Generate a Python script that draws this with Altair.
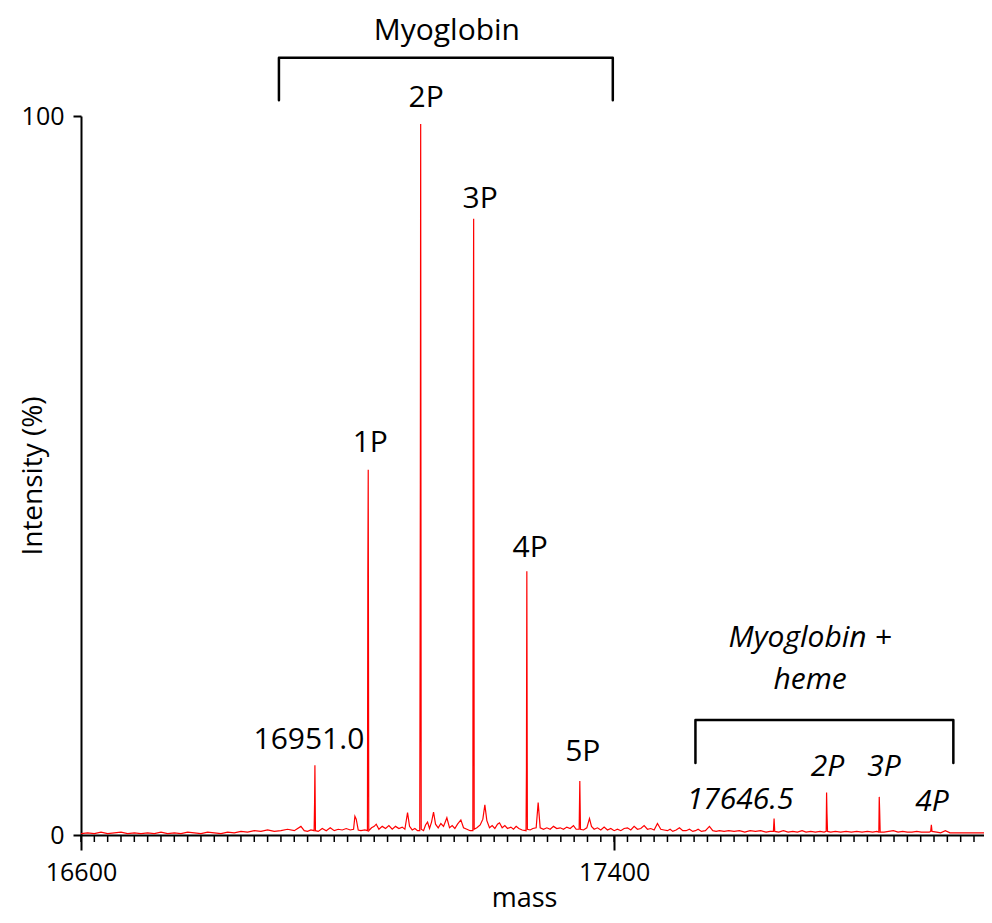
import altair as alt
import pandas as pd

# ---- spectrum profile (mass, intensity %) ----
spectrum_mass = [
    16600, 16610, 16620, 16630, 16640, 16650, 16660, 16670, 16680, 16690,
    16700, 16710, 16720, 16730, 16740, 16750, 16760, 16770, 16780, 16790,
    16800, 16810, 16820, 16830, 16840, 16850, 16860, 16870, 16880, 16890,
    16900, 16910, 16920, 16930, 16935, 16940, 16945,
    16949.8, 16950.5, 16951.0, 16951.8,
    16956, 16962, 16968, 16974, 16980, 16986, 16992, 16998, 17004,
    17009, 17011, 17013, 17016, 17020, 17026,
    17029.8, 17030.4, 17031.0, 17031.8,
    17036, 17040, 17043, 17047, 17052, 17057, 17062, 17067, 17072, 17077,
    17082, 17086, 17090, 17093, 17097, 17101, 17105,
    17108.3, 17108.8, 17109.2, 17109.7, 17110.5,
    17114, 17117, 17120, 17123, 17126, 17129, 17132, 17136, 17140, 17144,
    17149, 17153, 17157, 17161, 17165, 17170, 17174, 17179, 17184,
    17188.0, 17188.6, 17189.2, 17190.0,
    17194, 17199, 17203, 17206, 17209, 17213, 17217, 17221, 17225, 17228,
    17232, 17236, 17240, 17245, 17249, 17253, 17257, 17262,
    17267.8, 17268.4, 17269.0, 17269.8,
    17274, 17278, 17283, 17286, 17289, 17294, 17299, 17304, 17309, 17314,
    17319, 17324, 17329, 17334, 17339, 17343,
    17347.5, 17348.5, 17349.5,
    17354, 17359, 17363, 17366, 17370, 17375, 17380, 17385, 17390, 17395,
    17400, 17405, 17410, 17415, 17420, 17425, 17430, 17435, 17440, 17445,
    17450, 17455, 17460, 17465, 17470, 17475, 17480, 17484, 17488, 17493,
    17498, 17503, 17508, 17513, 17518, 17522, 17526, 17531, 17537, 17543,
    17548, 17553, 17558, 17565, 17572, 17580, 17588, 17596, 17604, 17612,
    17620, 17628, 17634,
    17639, 17640, 17641,
    17647, 17654, 17661, 17668, 17675, 17682, 17688, 17695, 17702, 17709, 17715,
    17718.2, 17718.8, 17719.4, 17720.2,
    17725, 17732, 17740, 17748, 17756, 17764, 17772, 17780, 17788, 17794,
    17797.2, 17797.8, 17798.4, 17799.2,
    17805, 17812, 17819, 17826, 17833, 17840, 17847, 17854, 17861, 17868, 17873,
    17875, 17876, 17877,
    17884, 17890, 17897, 17904, 17912, 17920, 17930, 17940, 17950, 17955,
]
spectrum_intensity = [
    0.2, 0.3, 0.2, 0.4, 0.2, 0.3, 0.4, 0.2, 0.3, 0.2,
    0.3, 0.2, 0.4, 0.2, 0.3, 0.2, 0.4, 0.3, 0.2, 0.4,
    0.3, 0.2, 0.4, 0.3, 0.5, 0.4, 0.6, 0.5, 0.7, 0.5,
    0.6, 0.8, 0.6, 1.2, 0.6, 0.5, 0.7,
    0.6, 4.5, 9.7, 0.6,
    0.5, 0.9, 0.6, 1.0, 0.6, 0.8, 0.7, 0.9, 0.7,
    0.8, 2.6, 2.2, 0.7, 0.6, 0.7,
    0.6, 36.0, 50.8, 0.6,
    1.0, 1.2, 1.5, 0.8, 1.2, 0.9, 1.3, 0.8, 1.2, 0.9,
    1.1, 0.8, 3.1, 1.2, 0.7, 0.9, 0.6,
    0.6, 24.3, 48.7, 98.9, 0.8,
    0.6, 1.4, 1.8, 0.9, 1.8, 3.2, 1.5, 1.0, 1.6, 1.2,
    2.4, 1.0, 1.3, 0.9, 1.5, 2.1, 1.0, 0.8, 0.6,
    0.6, 64.4, 85.7, 0.8,
    1.0, 1.4, 2.2, 4.2, 2.0, 1.0, 1.3, 0.9, 1.5, 1.7,
    1.0, 1.3, 0.9, 1.1, 0.8, 1.2, 0.9, 0.7,
    0.6, 9.0, 36.7, 0.8,
    0.7, 0.9, 1.0, 4.5, 1.0, 0.8, 1.0, 0.8, 1.2, 0.9,
    1.0, 0.8, 1.1, 0.9, 1.3, 0.8,
    0.8, 7.5, 0.8,
    0.7, 1.0, 2.3, 1.2, 0.8, 1.0, 0.7, 1.1, 0.7, 0.9,
    0.6, 0.8, 0.6, 0.9, 1.0, 0.7, 1.2, 0.8, 0.9, 1.3,
    0.8, 0.9, 0.7, 1.6, 0.8, 0.7, 0.6, 0.8, 0.5, 0.7,
    1.0, 0.6, 0.6, 0.8, 0.5, 0.6, 0.8, 0.5, 0.6, 1.2,
    0.6, 0.5, 0.6, 0.5, 0.6, 0.5, 0.6, 0.4, 0.6, 0.5,
    0.6, 0.4, 0.5,
    0.5, 2.3, 0.5,
    0.4, 0.6, 0.4, 0.5, 0.4, 0.6, 0.4, 0.5, 0.4, 0.5, 0.4,
    0.5, 5.9, 3.0, 0.5,
    0.4, 0.5, 0.4, 0.5, 0.4, 0.5, 0.4, 0.5, 0.4, 0.5,
    0.4, 5.3, 3.5, 0.4,
    0.4, 0.5, 0.6, 0.4, 0.5, 0.4, 0.4, 0.5, 0.4, 0.4, 0.4,
    0.5, 1.4, 0.5,
    0.4, 0.3, 0.6, 0.3, 0.3, 0.3, 0.3, 0.3, 0.3, 0.3,
]

# ---- annotations ----
label_text = ["Myoglobin", "1P", "2P", "3P", "4P", "5P", "16951.0"]
label_mass = [17149, 17034, 17118, 17199, 17274, 17353, 16942]
label_int = [111.8, 54.5, 102.5, 88.5, 39.9, 11.5, 13.2]

italic_text = ["Myoglobin +", "heme", "17646.5", "2P", "3P", "4P"]
italic_mass = [17694, 17694, 17589, 17720, 17805, 17877]
italic_int = [27.4, 21.6, 4.9, 9.5, 9.5, 4.6]

# brackets: group, mass, intensity (left end, left top, right top, right end)
bracket_group = ["myo"] * 4 + ["heme"] * 4
bracket_mass = [16897, 16897, 17398, 17398, 17522, 17522, 17909, 17909]
bracket_int = [102.2, 108.1, 108.1, 102.2, 10.0, 16.0, 16.0, 10.0]

major_ticks = [16600, 17400]
minor_ticks = list(range(16600, 17956, 20))

X_MIN, X_MAX = 16600, 17955
FONT = "Open Sans"

spec_df = pd.DataFrame({"mass": spectrum_mass, "intensity": spectrum_intensity})
spec_df["order"] = range(len(spec_df))
lab_df = pd.DataFrame({"text": label_text, "mass": label_mass, "intensity": label_int})
ital_df = pd.DataFrame({"text": italic_text, "mass": italic_mass, "intensity": italic_int})
br_df = pd.DataFrame({"g": bracket_group, "mass": bracket_mass, "intensity": bracket_int})
br_df["order"] = range(len(br_df))
minor_df = pd.DataFrame({"mass": minor_ticks})

x_axis = alt.Axis(
    values=major_ticks, format="d", grid=False, domainColor="black", domainWidth=2,
    tickColor="black", tickWidth=2, tickSize=15, labelFont=FONT, labelFontSize=25,
    labelColor="black", labelPadding=10, labelFlush=False, labelOverlap=False,
    title="mass", titleFont=FONT, titleFontSize=27, titleFontWeight="normal",
    titleColor="black", titleX=443, titleY=63, titleBaseline="middle",
)
y_axis = alt.Axis(
    values=[0, 100], format="d", grid=False, domainColor="black", domainWidth=2,
    tickColor="black", tickWidth=2, tickSize=8, labelFont=FONT, labelFontSize=25,
    labelColor="black", labelPadding=9,
    title="Intensity (%)", titleFont=FONT, titleFontSize=28, titleFontWeight="normal",
    titleColor="black", titleX=-48, titleY=359.5, titleAngle=270, titleBaseline="middle",
)
xs = alt.Scale(domain=[X_MIN, X_MAX], nice=False, zero=False)
ys = alt.Scale(domain=[0, 100], nice=False, zero=True)
X = alt.X("mass:Q", scale=xs, axis=x_axis)
Y = alt.Y("intensity:Q", scale=ys, axis=y_axis)

minor = alt.Chart(minor_df).mark_rule(color="black", strokeWidth=1.5).encode(
    x=X, y=alt.value(719), y2=alt.value(726)
)
spectrum = alt.Chart(spec_df).mark_line(color="#ff0000", strokeWidth=1.2).encode(
    x=X, y=Y, order="order:Q"
)
brackets = alt.Chart(br_df).mark_line(
    color="black", strokeWidth=2.5, strokeJoin="round", strokeCap="round"
).encode(x=X, y=Y, detail="g:N", order="order:Q")
labels = alt.Chart(lab_df).mark_text(
    font=FONT, fontSize=30, color="black", align="center", baseline="middle"
).encode(x=X, y=Y, text="text:N")
ital = alt.Chart(ital_df).mark_text(
    font=FONT, fontSize=30, fontStyle="italic", color="black", align="center", baseline="middle"
).encode(x=X, y=Y, text="text:N")

chart = alt.layer(minor, spectrum, brackets, labels, ital).properties(
    width=903, height=719,
    background="white",
    autosize=alt.AutoSizeParams(type="none"),
    padding={"left": 73, "top": 108, "right": 0, "bottom": 80},
).configure_view(strokeWidth=0, stroke="transparent").configure_axis(grid=False)

chart.save("out.html", embed_options={"renderer": "svg", "actions": False})
